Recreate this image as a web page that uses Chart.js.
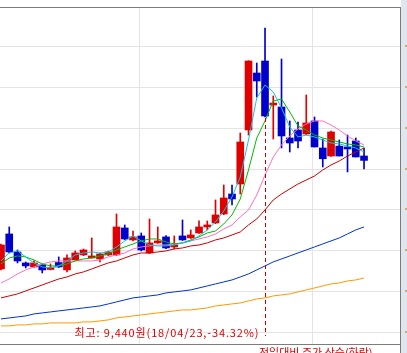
<!DOCTYPE html>
<html><head><meta charset="utf-8">
<script src="https://cdn.jsdelivr.net/npm/chart.js@4/dist/chart.umd.min.js"></script>
<style>html,body{margin:0;padding:0;background:#fff;overflow:hidden}canvas{display:block}</style>
</head><body>
<canvas id="c" width="407" height="353"></canvas>
<script>
const dates = ['03/08','03/09','03/12','03/13','03/14','03/15','03/16','03/19','03/20','03/21','03/22','03/23','03/26','03/27','03/28','03/29','03/30',
  '04/02','04/03','04/04','04/05','04/06','04/09','04/10','04/11','04/12','04/13','04/16','04/17','04/18','04/19','04/20','04/23','04/24','04/25','04/26','04/27','04/30',
  '05/02','05/03','05/04','05/08','05/09','05/10','05/11'];
const opens  = [3543,4400,3959,3690,3592,3641,3530,3700,3519,3770,3886,3812,3788,3886,3886,4547,4253,4351,3935,4180,4327,4082,4351,4302,4424,4571,4669,4889,5378,5623,6945,8339,8633,7556,7507,6749,6945,6847,7165,6504,6308,6550,6529,6675,6308];
const highs  = [4150,4571,4008,3714,3739,3660,3666,3837,3886,3984,4030,4302,3930,3980,4889,4620,4473,4424,4767,4571,4360,4351,4742,4498,4718,4718,5232,5599,5599,6871,8640,8584,9440,7777,8682,7165,7140,7801,7263,6724,6920,6700,6822,6749,6504];
const lows   = [3520,3935,3690,3568,3580,3445,3519,3580,3470,3760,3870,3812,3714,3870,3870,4260,4230,3984,3920,4170,4040,4033,4240,4290,4410,4498,4650,4870,5109,5378,6822,7752,7263,6724,6504,6406,6504,6822,6529,6039,6300,6308,5917,6284,5990];
const closes = [4130,3959,3739,3617,3690,3519,3580,3592,3812,3935,4008,3861,3910,3959,4571,4277,4327,4008,4180,4229,4057,4130,4253,4375,4571,4620,4865,5281,5256,6651,8633,8144,7287,7605,6798,6626,6675,7116,6529,6240,6896,6308,6480,6284,6200];
const ma3   = [3739,3935,3984,3837,3690,3592,3568,3617,3739,3886,3935,3959,3935,3959,4082,4229,4351,4229,4130,4106,4106,4130,4180,4229,4351,4498,4693,4962,5305,5794,6700,7728,8046,7875,7483,7018,6773,6822,6773,6700,6626,6602,6553,6504,6406];
const ma5   = [3666,3812,3861,3837,3763,3666,3617,3617,3666,3739,3788,3812,3861,3910,4008,4082,4155,4229,4277,4277,4204,4155,4180,4253,4327,4424,4473,4644,4865,5256,5966,6749,7165,7654,7703,7385,7043,6945,6822,6749,6700,6651,6602,6577,6529];
const ma10  = [3200,3298,3421,3519,3592,3666,3715,3739,3739,3739,3739,3739,3763,3837,3886,3935,4033,4082,4106,4130,4130,4155,4180,4229,4277,4326,4400,4522,4620,4816,4987,5354,5843,6284,6578,6798,6969,7091,7165,7165,7067,6945,6798,6675,6578];
const ma20  = [2834,2883,2932,3005,3078,3152,3225,3298,3347,3421,3470,3543,3617,3690,3739,3812,3886,3935,3935,3959,3984,4033,4057,4106,4130,4180,4253,4302,4375,4449,4620,4767,4987,5232,5378,5501,5623,5721,5819,5966,6088,6186,6308,6406,6504];
const ma60  = [2320,2344,2369,2393,2442,2467,2491,2516,2540,2564,2589,2613,2638,2687,2736,2785,2834,2858,2883,2907,2956,2981,3005,3030,3078,3127,3176,3225,3274,3347,3421,3519,3617,3715,3788,3861,3935,4008,4082,4155,4229,4302,4400,4498,4571];
const ma120 = [2149,2149,2173,2173,2198,2198,2222,2222,2222,2222,2247,2247,2271,2296,2345,2369,2393,2418,2442,2467,2491,2516,2540,2540,2564,2589,2638,2662,2687,2711,2760,2809,2834,2883,2907,2932,2981,3030,3078,3127,3176,3200,3250,3274,3323];
const priceTicks = [2000,3000,4000,5000,6000,7000,8000,9000];
const footerText = '전일대비 주가 상승(하락)';

const UP = '#e00000', DOWN = '#0000cc';
const candleColors = opens.map((o,i)=> closes[i] >= o ? UP : DOWN);
const monthStarts = dates.map((d,i)=> i>0 && d.slice(0,2)!==dates[i-1].slice(0,2) ? i : -1).filter(i=>i>=0);
const xy = arr => arr.map((v,i)=>({x:i,y:v}));
const maxHigh = Math.max(...highs), maxIdx = highs.indexOf(maxHigh);
const lastClose = closes[closes.length-1];
const pct = ((lastClose - maxHigh)/maxHigh*100).toFixed(2);
const maxText = '최고: ' + maxHigh.toLocaleString('en-US') + '원(18/' + dates[maxIdx] + ',' + pct + '%)';

function lineDs(label, data, color, order){
  return {type:'line', label, data: xy(data), borderColor: color, borderWidth: 1, pointRadius: 0, tension: 0, fill: false, order};
}

const deco = {
  id: 'deco',
  beforeDraw(chart){
    const {ctx, chartArea: a, scales: {x, y}} = chart;
    ctx.save();
    ctx.fillStyle = '#ffffff'; ctx.fillRect(0,0,chart.width,chart.height);
    ctx.fillStyle = '#dfe6ee'; ctx.fillRect(a.right+1, 0, chart.width-a.right-1, chart.height);
    ctx.strokeStyle = '#e4e4e4'; ctx.lineWidth = 1;
    priceTicks.forEach(v=>{
      const py = Math.round(y.getPixelForValue(v)) + 0.5;
      ctx.beginPath(); ctx.moveTo(a.left, py); ctx.lineTo(a.right, py); ctx.stroke();
    });
    monthStarts.forEach(i=>{
      const px = Math.round(x.getPixelForValue(i - 0.27)) + 0.5;
      ctx.beginPath(); ctx.moveTo(px, a.top); ctx.lineTo(px, a.bottom); ctx.stroke();
    });
    // right axis tick stubs
    ctx.fillStyle = '#c8b078';
    priceTicks.forEach(v=>{
      const py = Math.round(y.getPixelForValue(v));
      ctx.fillRect(a.right+5, py-1, 2, 2);
    });
    ctx.strokeStyle = '#7c7c7c';
    ctx.beginPath(); ctx.moveTo(a.left, a.top+0.5); ctx.lineTo(a.right+1, a.top+0.5); ctx.stroke();
    ctx.beginPath(); ctx.moveTo(a.right+0.5, a.top); ctx.lineTo(a.right+0.5, chart.height); ctx.stroke();
    ctx.beginPath(); ctx.moveTo(a.left, a.bottom+0.5); ctx.lineTo(a.right, a.bottom+0.5); ctx.stroke();
    ctx.restore();
  },
  afterDraw(chart){
    const {ctx, chartArea: a, scales: {x, y}} = chart;
    ctx.save();
    const px = Math.round(x.getPixelForValue(maxIdx)) + 0.5;
    ctx.strokeStyle = '#c00000'; ctx.lineWidth = 1; ctx.setLineDash([4,3]);
    ctx.beginPath(); ctx.moveTo(px, y.getPixelForValue(lows[maxIdx]) + 1); ctx.lineTo(px, a.bottom - 8); ctx.stroke();
    ctx.setLineDash([]);
    ctx.fillStyle = '#dd0000';
    ctx.font = '11px "Noto Sans CJK KR"';
    ctx.textBaseline = 'alphabetic';
    const target = 185;
    const w = ctx.measureText(maxText).width;
    if ('letterSpacing' in ctx) ctx.letterSpacing = ((target - w) / maxText.length).toFixed(2) + 'px';
    ctx.textAlign = 'left';
    ctx.fillText(maxText, px - 6 - target, a.bottom - 7);
    if ('letterSpacing' in ctx) ctx.letterSpacing = '0px';
    ctx.font = '11px "Noto Sans CJK KR"';
    ctx.fillText(footerText, 259, chart.height + 4);
    ctx.restore();
  }
};

new Chart(document.getElementById('c'), {
  type: 'bar',
  data: {
    datasets: [
      lineDs('3일', ma3, '#10c4e4', 1),
      lineDs('5일', ma5, '#00bb00', 2),
      lineDs('10일', ma10, '#ff70c0', 3),
      lineDs('20일', ma20, '#cc0000', 4),
      lineDs('60일', ma60, '#0033cc', 5),
      lineDs('120일', ma120, '#ff9900', 6),
      {label:'body', data: opens.map((o,i)=>({x:i, y:[o, closes[i]]})), backgroundColor: candleColors, borderWidth: 0, barThickness: 7, grouped: false, order: 9},
      {label:'wick', data: highs.map((h,i)=>({x:i, y:[lows[i], h]})), backgroundColor: candleColors, borderWidth: 0, barThickness: 1, grouped: false, order: 10}
    ]
  },
  options: {
    responsive: false,
    devicePixelRatio: 1,
    animation: false,
    layout: {padding: {left: 0, top: 7, right: 7, bottom: 9}},
    plugins: {legend: {display: false}, tooltip: {enabled: false}},
    scales: {
      x: {type: 'linear', min: -0.12, max: 48.36, offset: false, display: false},
      y: {type: 'linear', min: 1706, max: 9955, display: false}
    }
  },
  plugins: [deco]
});
</script>
</body></html>
